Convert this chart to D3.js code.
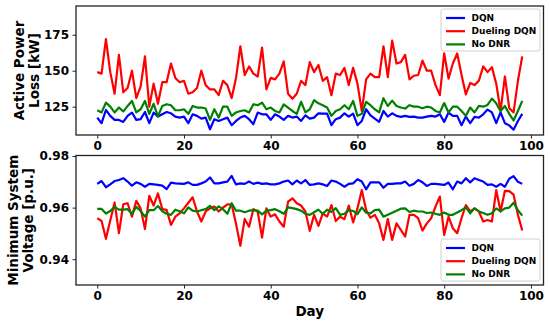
<!DOCTYPE html>
<html>
<head>
<meta charset="utf-8">
<script src="https://cdn.jsdelivr.net/npm/d3@7"></script>
<style>
  html, body { margin: 0; padding: 0; background: #fff; }
  svg { display: block; }
</style>
</head>
<body>
<svg id="chart" width="550" height="322"></svg>
<script>
// days 0..98
const days = d3.range(0, 99);

const seriesNames = ["DQN", "Dueling DQN", "No DNR"];
const seriesColors = ["#0000ff", "#ff0000", "#008000"];

// Active power loss [kW]
const lossDQN = [
  117.4, 113.5, 122.7, 118.6, 115.8, 115.8, 114.4, 118.6, 120.9, 115.8,
  116.3, 121.3, 113.5, 120.9, 118.1, 119.7, 121.3, 120.4, 118.1, 117.4,
  118.1, 113.5, 119.7, 118.6, 116.7, 117.4, 109.3, 116.3, 115.1, 116.3,
  117.4, 112.1, 115.1, 117.4, 118.6, 116.3, 112.8, 120.9, 119.7, 119.7,
  115.8, 119.7, 118.1, 115.8, 118.6, 117.4, 118.1, 115.1, 119.0, 116.7,
  117.4, 120.4, 120.2, 120.2, 112.1, 116.3, 117.4, 120.4, 118.1, 120.2,
  112.1, 115.1, 123.2, 119.0, 116.7, 114.4, 122.0, 118.1, 120.4, 118.6,
  117.9, 118.6, 117.9, 118.1, 117.4, 117.4, 118.1, 118.6, 118.1, 119.7,
  114.4, 120.9, 118.6, 118.6, 112.1, 118.1, 113.5, 117.9, 117.4, 119.7,
  123.0, 121.0, 113.5, 121.0, 113.5, 112.0, 109.0, 115.0, 120.0
];
const lossDueling = [
  149, 148, 172, 149, 134, 161, 135, 138, 150, 131,
  139, 160, 125, 141, 127, 142, 142, 155, 145, 142,
  143, 134, 135, 138, 150, 140, 137, 137, 133, 143,
  140, 131, 145, 167, 147, 153, 148, 146, 166, 137,
  145, 144, 148, 156.5, 134, 130.5, 134, 143, 140, 156,
  149, 154, 143, 145.5, 133, 148, 147, 152, 140, 152,
  141, 122, 144, 148, 145.5, 145.5, 167, 145.5, 171, 155,
  156, 161, 144, 146.5, 147, 157, 150, 150, 140, 133,
  162, 144.5, 155, 162, 147, 133.5, 141.5, 140, 143, 153,
  149, 152.5, 141, 122, 146, 124, 121, 143, 160
];
const lossNoDNR = [
  122.5, 121.0, 127.8, 125.0, 121.0, 124.4, 121.6, 125.5, 129.0, 121.0,
  123.2, 129.0, 120.0, 127.0, 118.3, 125.5, 126.7, 126.0, 122.5, 122.5,
  123.2, 120.0, 125.5, 124.4, 124.4, 123.7, 115.8, 123.2, 117.4, 125.0,
  125.0, 118.6, 121.0, 122.0, 122.5, 121.0, 126.7, 126.0, 127.8, 123.2,
  124.4, 122.0, 121.0, 126.6, 124.4, 122.0, 120.0, 128.4, 121.0, 123.2,
  129.5, 127.3, 126.0, 124.4, 118.6, 122.0, 123.2, 126.0, 123.2, 129.0,
  118.6, 120.0, 128.4, 126.0, 123.2, 121.0, 130.9, 125.5, 129.2, 125.5,
  124.4, 123.7, 126.0, 125.0, 125.0, 123.9, 125.0, 124.4, 122.0, 121.0,
  127.5, 121.0, 125.0, 125.0, 122.0, 118.6, 124.4, 121.0, 125.5, 125.0,
  126.2, 130.6, 127.3, 122.0, 125.5, 120.0, 115.4, 122.0, 129.0
];

// Minimum system voltage [p.u.]
const voltDQN = [
  0.9692, 0.9703, 0.9679, 0.9690, 0.9703, 0.9707, 0.9714, 0.9701, 0.9685, 0.9698,
  0.9692, 0.9681, 0.9692, 0.9690, 0.9688, 0.9685, 0.9672, 0.9697, 0.9694, 0.9693,
  0.9692, 0.9698, 0.9688, 0.9688, 0.9694, 0.9701, 0.9717, 0.9694, 0.9694, 0.9698,
  0.9701, 0.9723, 0.9690, 0.9694, 0.9692, 0.9701, 0.9692, 0.9697, 0.9692, 0.9694,
  0.9690, 0.9690, 0.9694, 0.9701, 0.9705, 0.9690, 0.9705, 0.9694, 0.9707, 0.9688,
  0.9690, 0.9694, 0.9690, 0.9684, 0.9705, 0.9701, 0.9692, 0.9681, 0.9692, 0.9694,
  0.9710, 0.9701, 0.9671, 0.9698, 0.9698, 0.9698, 0.9677, 0.9692, 0.9692, 0.9694,
  0.9694, 0.9701, 0.9685, 0.9692, 0.9707, 0.9698, 0.9684, 0.9692, 0.9692, 0.9690,
  0.9688, 0.9697, 0.9671, 0.9701, 0.9694, 0.9714, 0.9698, 0.9714, 0.9707, 0.9701,
  0.9688, 0.9690, 0.9681, 0.9692, 0.9681, 0.9712, 0.9722, 0.9700, 0.9692
];
const voltDueling = [
  0.9559, 0.9548, 0.9479, 0.9550, 0.9620, 0.9501, 0.9613, 0.9617, 0.9565, 0.9626,
  0.9597, 0.9517, 0.9646, 0.9608, 0.9655, 0.9594, 0.9591, 0.9533, 0.9565, 0.9578,
  0.9597, 0.9619, 0.9640, 0.9585, 0.9546, 0.9585, 0.9597, 0.9604, 0.9585, 0.9600,
  0.9613, 0.9612, 0.9537, 0.9452, 0.9556, 0.9526, 0.9594, 0.9584, 0.9484, 0.9597,
  0.9565, 0.9574, 0.9546, 0.9526, 0.9623, 0.9636, 0.9617, 0.9608, 0.9585, 0.9510,
  0.9572, 0.9529, 0.9578, 0.9565, 0.9610, 0.9548, 0.9565, 0.9555, 0.9608, 0.9543,
  0.9597, 0.9668, 0.9591, 0.9561, 0.9572, 0.9539, 0.9475, 0.9556, 0.9475, 0.9539,
  0.9514, 0.9488, 0.9572, 0.9572, 0.9559, 0.9511, 0.9539, 0.9559, 0.9604, 0.9643,
  0.9494, 0.9565, 0.9520, 0.9501, 0.9559, 0.9610, 0.9585, 0.9597, 0.9585, 0.9546,
  0.9552, 0.9546, 0.9668, 0.9585, 0.9665, 0.9664, 0.9650, 0.9572, 0.9511
];
const voltNoDNR = [
  0.9595, 0.9595, 0.9577, 0.9587, 0.9603, 0.9592, 0.9592, 0.9594, 0.9576, 0.9603,
  0.9587, 0.9565, 0.9590, 0.9590, 0.9606, 0.9586, 0.9576, 0.9572, 0.9592, 0.9586,
  0.9578, 0.9601, 0.9588, 0.9585, 0.9590, 0.9594, 0.9607, 0.9590, 0.9605, 0.9594,
  0.9576, 0.9617, 0.9588, 0.9588, 0.9582, 0.9588, 0.9590, 0.9588, 0.9574, 0.9588,
  0.9590, 0.9594, 0.9586, 0.9576, 0.9601, 0.9598, 0.9594, 0.9588, 0.9576, 0.9572,
  0.9582, 0.9592, 0.9576, 0.9592, 0.9583, 0.9598, 0.9572, 0.9576, 0.9590, 0.9587,
  0.9575, 0.9601, 0.9580, 0.9578, 0.9590, 0.9592, 0.9565, 0.9572, 0.9580, 0.9588,
  0.9596, 0.9597, 0.9583, 0.9588, 0.9585, 0.9585, 0.9579, 0.9581, 0.9576, 0.9572,
  0.9581, 0.9572, 0.9572, 0.9581, 0.9590, 0.9601, 0.9578, 0.9597, 0.9585, 0.9579,
  0.9572, 0.9578, 0.9597, 0.9585, 0.9597, 0.9600, 0.9619, 0.9590, 0.9569
];

const xTicks = [0, 20, 40, 60, 80, 100];
const lossTicks = [125, 150, 175];
const voltTicks = [0.94, 0.96, 0.98];

const svg = d3.select("#chart");
svg.style("font-family", "'DejaVu Sans', sans-serif");

const left = 76, right = 543.5;

const x = d3.scaleLinear()
  .domain([-4.9, 102.9])
  .range([left, right]);

const panels = [
  {
    top: 6, bottom: 135,
    domain: [105.3, 195],
    ticks: lossTicks,
    fmt: d3.format("d"),
    series: [lossDQN, lossDueling, lossNoDNR],
    label: ["Active Power", "Loss [kW]"],
    labelX: [19, 34],
    legendY: 9
  },
  {
    top: 155.5, bottom: 285,
    domain: [0.930, 0.9802],
    ticks: voltTicks,
    fmt: d3.format(".2f"),
    series: [voltDQN, voltDueling, voltNoDNR],
    label: ["Minimum System", "Voltage [p.u.]"],
    labelX: [13, 28],
    legendY: 239
  }
];

panels.forEach(p => {
  const y = d3.scaleLinear()
    .domain(p.domain)
    .range([p.bottom, p.top]);

  const g = svg.append("g");

  // lines
  const line = d3.line()
    .x((d, i) => x(days[i]))
    .y(d => y(d));

  const clipId = "clip" + p.top;
  svg.append("clipPath").attr("id", clipId)
    .append("rect")
    .attr("x", left).attr("y", p.top)
    .attr("width", right - left).attr("height", p.bottom - p.top);

  p.series.forEach((s, k) => {
    g.append("path")
      .datum(s)
      .attr("clip-path", `url(#${clipId})`)
      .attr("fill", "none")
      .attr("stroke", seriesColors[k])
      .attr("stroke-width", 2.2)
      .attr("stroke-linejoin", "round")
      .attr("d", line);
  });

  // axes
  const xAxis = g.append("g")
    .attr("transform", `translate(0,${p.bottom})`)
    .call(d3.axisBottom(x).tickValues(xTicks).tickSize(3.5).tickPadding(3));

  const yAxis = g.append("g")
    .attr("transform", `translate(${left},0)`)
    .call(d3.axisLeft(y).tickValues(p.ticks).tickFormat(p.fmt).tickSize(3.5).tickPadding(3.5));

  [xAxis, yAxis].forEach(a => {
    a.select(".domain").remove();
    a.selectAll(".tick line").attr("stroke", "#222").attr("stroke-width", 1);
    a.selectAll(".tick text")
      .attr("fill", "#000")
      .attr("font-size", "12px")
      .attr("font-weight", "bold")
      .attr("font-family", "'DejaVu Sans', sans-serif");
  });

  // frame
  g.append("rect")
    .attr("x", left)
    .attr("y", p.top)
    .attr("width", right - left)
    .attr("height", p.bottom - p.top)
    .attr("fill", "none")
    .attr("stroke", "#222")
    .attr("stroke-width", 1.3);

  // y label
  const cy = (p.top + p.bottom) / 2;
  p.label.forEach((t, i) => {
    svg.append("text")
      .attr("transform", `translate(${p.labelX[i]},${cy}) rotate(-90)`)
      .attr("text-anchor", "middle")
      .attr("dominant-baseline", "central")
      .attr("font-size", "13.5px")
      .attr("font-weight", "bold")
      .attr("fill", "#000")
      .text(t);
  });

  // legend
  const lg = svg.append("g")
    .attr("transform", `translate(441,${p.legendY})`);

  lg.append("rect")
    .attr("width", 99)
    .attr("height", 42)
    .attr("rx", 2.5)
    .attr("fill", "#fff")
    .attr("fill-opacity", 0.8)
    .attr("stroke", "#d0d0d0")
    .attr("stroke-width", 1);

  seriesNames.forEach((name, k) => {
    const ly = 9 + k * 13.2;
    lg.append("line")
      .attr("x1", 5).attr("x2", 24)
      .attr("y1", ly).attr("y2", ly)
      .attr("stroke", seriesColors[k])
      .attr("stroke-width", 2.2);
    lg.append("text")
      .attr("x", 30.5)
      .attr("y", ly)
      .attr("dominant-baseline", "central")
      .attr("font-size", "9px")
      .attr("font-weight", "bold")
      .attr("fill", "#000")
      .text(name);
  });
});

// x label
svg.append("text")
  .attr("x", (left + right) / 2)
  .attr("y", 316)
  .attr("text-anchor", "middle")
  .attr("font-size", "13.5px")
  .attr("font-weight", "bold")
  .attr("fill", "#000")
  .text("Day");
</script>
</body>
</html>
